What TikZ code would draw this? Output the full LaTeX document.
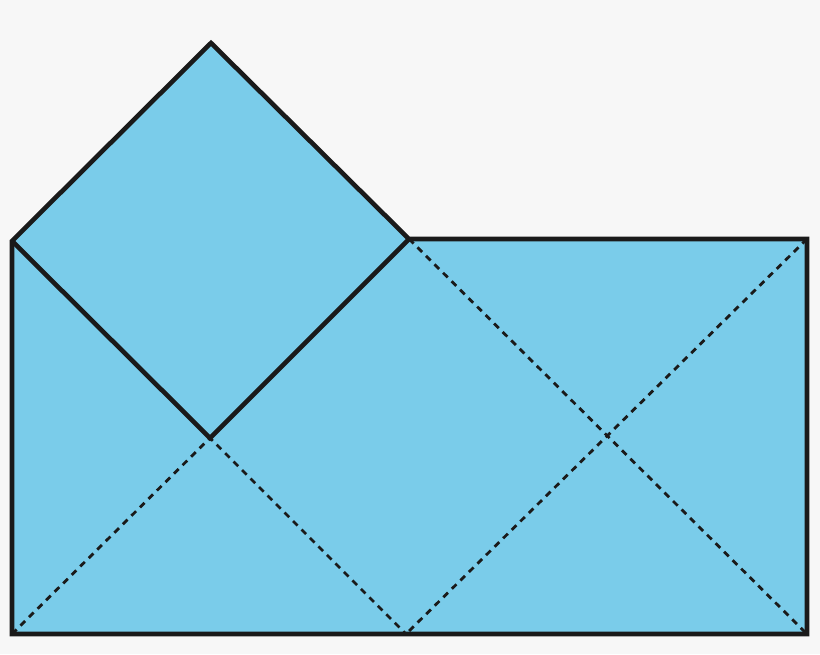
\documentclass[tikz,border=0pt]{standalone}
\usepackage{xcolor}
\definecolor{bg}{HTML}{F7F7F7}
\definecolor{fillblue}{HTML}{7ACCEA}
\definecolor{ink}{HTML}{1A1A1A}
\tikzset{
  solidedge/.style={draw=ink, line width=4.6pt, line join=miter},
  foldline/.style={draw=ink, line width=2.8pt, dash pattern=on 6.5pt off 5.5pt},
}
\begin{document}
\begin{tikzpicture}[x=1pt,y=-1pt]
\fill[bg] (0,0) rectangle (820,654);
\useasboundingbox (0,0) rectangle (820,654);
\coordinate (L) at (12,241);
\coordinate (T) at (211,43);
\coordinate (R) at (409,239);
\coordinate (B) at (210,438);
\coordinate (TR) at (807,239);
\coordinate (BR) at (807,634);
\coordinate (BL) at (12,634);
\coordinate (BM) at (406,634);
\fill[fillblue] (L) -- (T) -- (R) -- (TR) -- (BR) -- (BL) -- cycle;
\draw[foldline] (BL) -- (B) -- (BM);
\draw[foldline] (R) -- (BR);
\draw[foldline] (TR) -- (BM);
\draw[solidedge] (L) -- (T) -- (R) -- (TR) -- (BR) -- (BL) -- cycle;
\draw[solidedge] (L) -- (B) -- (R);
\end{tikzpicture}
\end{document}
